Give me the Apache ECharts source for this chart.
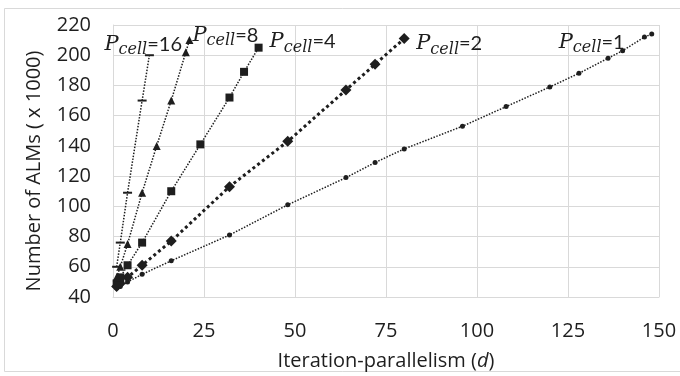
<!DOCTYPE html>
<html>
<head>
<meta charset="utf-8">
<script src="https://cdn.jsdelivr.net/npm/echarts@6/dist/echarts.min.js"></script>
<style>
  html, body { margin: 0; padding: 0; background: #fff; }
  #chart { width: 680px; height: 376px; }
</style>
</head>
<body>
<div id="chart"></div>
<script>
// Iteration parallelism d versus ALM count (thousands), one series per P_cell
const p1D   = [1, 2, 4, 8, 16, 32, 48, 64, 72, 80, 96, 108, 120, 128, 136, 140, 146, 148];
const p1Alm = [46, 47, 50, 55, 64, 81, 101, 119, 129, 138, 153, 166, 179, 188, 198, 203, 212, 214];

const p2D   = [1, 2, 4, 8, 16, 32, 48, 64, 72, 80];
const p2Alm = [47, 49, 53, 61, 77, 113, 143, 177, 194, 211];

const p4D   = [1, 2, 4, 8, 16, 24, 32, 36, 40];
const p4Alm = [49, 53, 61, 76, 110, 141, 172, 189, 205];

const p8D   = [1, 2, 4, 8, 12, 16, 20, 21];
const p8Alm = [53, 60, 75, 109, 140, 170, 202, 210];

const p16D   = [1, 2, 4, 8, 10];
const p16Alm = [60, 76, 109, 170, 200];

const cellLabels = ['1', '2', '4', '8', '16'];
const xTicks = { min: 0, max: 150, step: 25 };
const yTicks = { min: 40, max: 220, step: 20 };

const ink = '#1e1e1e';
const sansFont = 'Open Sans';

function pairs(xs, ys) {
  return xs.map((x, i) => [x, ys[i]]);
}

const labelRich = {
  p: { fontFamily: 'DejaVu Serif', fontStyle: 'italic', fontSize: 21, color: ink },
  s: { fontFamily: 'DejaVu Serif', fontStyle: 'italic', fontSize: 16, color: ink, padding: [12, 0, 0, 0] },
  e: { fontFamily: 'Lato', fontSize: 20, color: ink }
};

function makeSeries(xs, ys, cell, symbol, symbolSize, lineWidth, dash, labelOpt) {
  const data = pairs(xs, ys);
  const last = data.length - 1;
  return {
    type: 'line',
    name: 'P' + cell,
    data: data.map((pt, i) => {
      if (i !== last) return pt;
      return {
        value: pt,
        label: Object.assign({
          show: true,
          position: 'inside',
          formatter: '{p|P}{s|cell}{e|=' + cell + '}',
          rich: labelRich
        }, labelOpt)
      };
    }),
    symbol: symbol,
    symbolSize: symbolSize,
    showAllSymbol: true,
    itemStyle: { color: ink },
    lineStyle: { color: ink, width: lineWidth, type: dash },
    emphasis: { disabled: true },
    animation: false,
    z: 3
  };
}

const chart = echarts.init(document.getElementById('chart'), null, { renderer: 'canvas' });

chart.setOption({
  backgroundColor: '#ffffff',
  animation: false,
  graphic: [{
    type: 'rect',
    shape: { x: 4.5, y: 8.5, width: 680, height: 363 },
    style: { fill: 'none', stroke: '#d9d9d9', lineWidth: 1 },
    silent: true,
    z: -1
  }],
  grid: { left: 113, right: 21, top: 25, bottom: 74, containLabel: false },
  xAxis: {
    type: 'value',
    min: xTicks.min,
    max: xTicks.max,
    interval: xTicks.step,
    name: 'Iteration-parallelism ({i|d})',
    nameLocation: 'middle',
    nameGap: 54,
    nameTextStyle: {
      fontFamily: sansFont, fontSize: 20, color: ink,
      rich: { i: { fontFamily: sansFont, fontStyle: 'italic', fontSize: 20, color: ink } }
    },
    axisLine: { show: true, lineStyle: { color: '#d9d9d9', width: 1 } },
    axisTick: { show: false },
    axisLabel: { fontFamily: sansFont, fontSize: 20, color: ink, margin: 24 },
    splitLine: { show: true, lineStyle: { color: '#d9d9d9', width: 1 } }
  },
  yAxis: {
    type: 'value',
    min: yTicks.min,
    max: yTicks.max,
    interval: yTicks.step,
    name: 'Number of ALMs ( x 1000)',
    nameLocation: 'middle',
    nameGap: 69,
    nameTextStyle: { fontFamily: sansFont, fontSize: 20, color: ink, padding: [0, 20, 0, 0] },
    axisLine: { show: true, lineStyle: { color: '#d9d9d9', width: 1 } },
    axisTick: { show: false },
    axisLabel: { fontFamily: sansFont, fontSize: 20, color: ink, margin: 22 },
    splitLine: { show: true, lineStyle: { color: '#d9d9d9', width: 1 } }
  },
  series: [
    makeSeries(p1D, p1Alm, cellLabels[0], 'circle', 5, 1.5, [1.5, 1.5],
      { align: 'right', verticalAlign: 'middle', offset: [-27, 8] }),
    makeSeries(p2D, p2Alm, cellLabels[1], 'diamond', 11, 3, [3, 3],
      { align: 'left', verticalAlign: 'middle', offset: [12, 5] }),
    makeSeries(p4D, p4Alm, cellLabels[2], 'rect', 8, 1.5, [1.5, 1.5],
      { align: 'left', verticalAlign: 'middle', offset: [11, -6] }),
    makeSeries(p8D, p8Alm, cellLabels[3], 'triangle', 8, 1.5, [1.5, 1.5],
      { align: 'left', verticalAlign: 'middle', offset: [3, -5] }),
    makeSeries(p16D, p16Alm, cellLabels[4], 'rect', [9, 2], 1.5, [1.5, 1.5],
      { align: 'left', verticalAlign: 'middle', offset: [-45, -11] })
  ]
});
</script>
</body>
</html>
